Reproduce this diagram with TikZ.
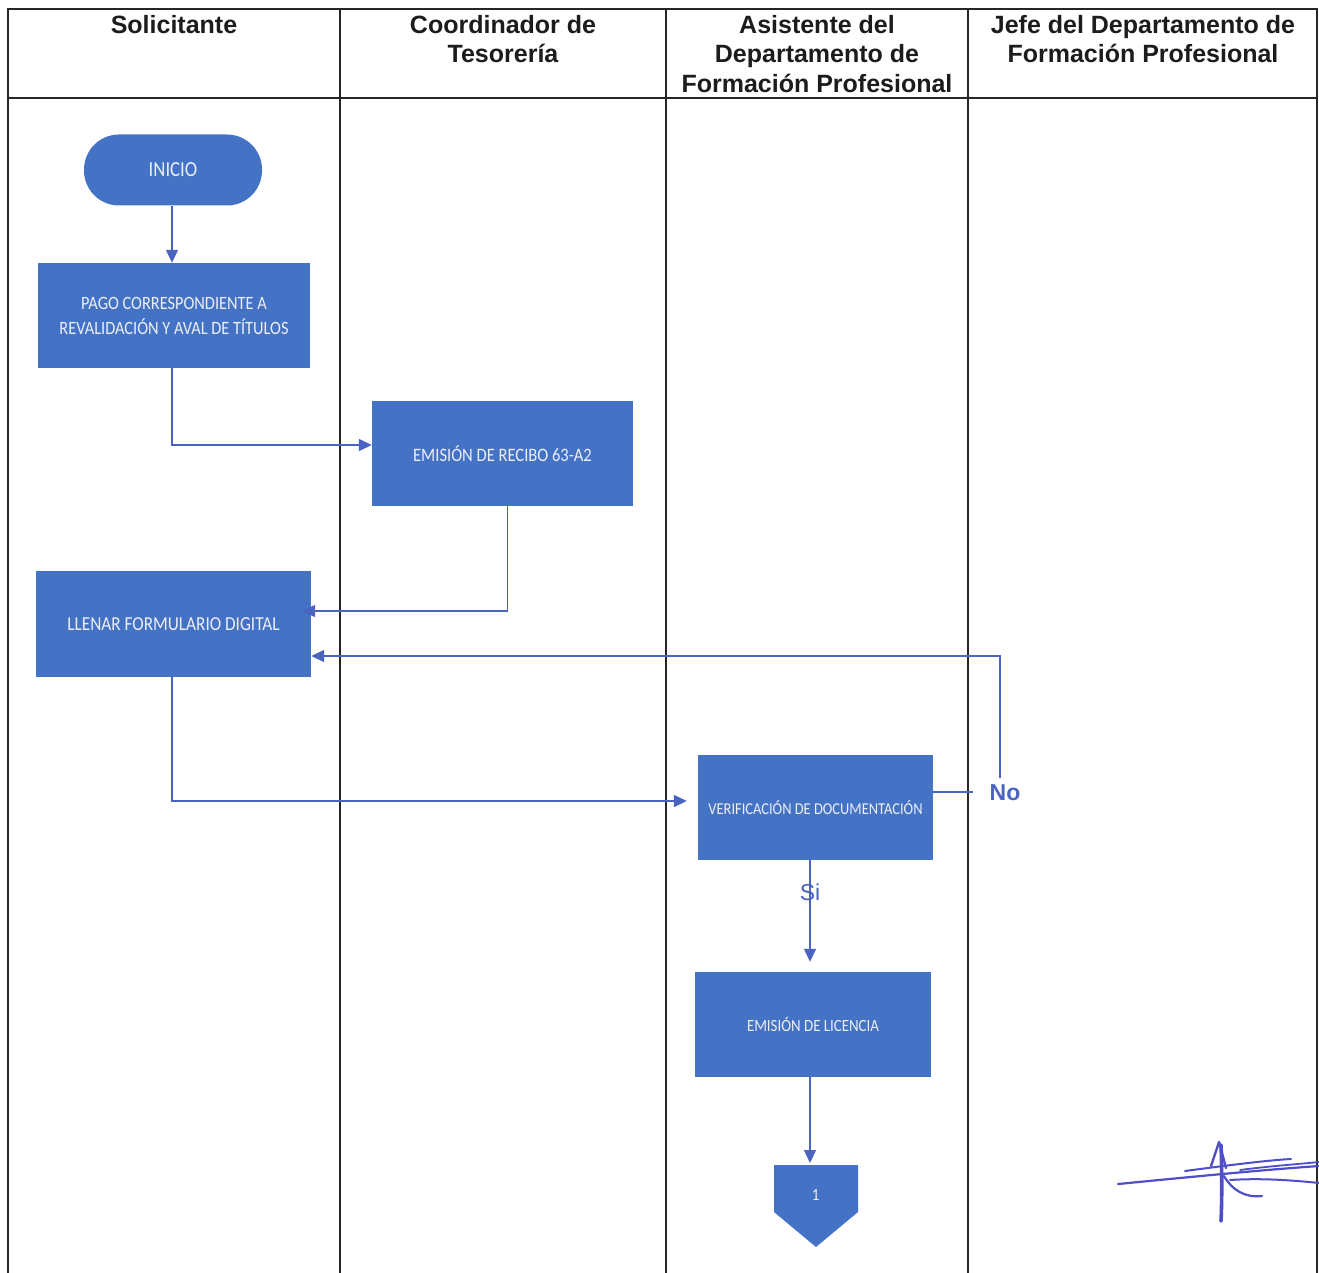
\documentclass[tikz,border=0pt]{standalone}
\usepackage{fontspec}
\setmainfont{Liberation Sans}
\newfontfamily\boxfont[FakeStretch=0.87]{Carlito}
\usetikzlibrary{arrows.meta}
\definecolor{boxblue}{RGB}{68,114,196}
\definecolor{linkblue}{RGB}{74,100,192}
\definecolor{boxtext}{RGB}{236,239,247}
\definecolor{headtext}{RGB}{28,28,28}
\definecolor{inkblue}{RGB}{78,78,200}
\begin{document}
\begin{tikzpicture}[x=1pt,y=-1pt,
  lane/.style={draw=black!85,line width=1.4pt},
  head/.style={font=\bfseries\fontsize{25}{29.5}\selectfont,text=headtext,align=center,inner sep=0pt,anchor=north},
  proc/.style={fill=boxblue,draw=none,text=boxtext,inner sep=0pt,align=center},
  link/.style={draw=linkblue,line width=1.4pt},
  arr/.style={link,-{Triangle[length=13pt,width=12pt]}},
  lbl/.style={text=linkblue,font=\fontsize{23}{26}\selectfont,inner sep=0pt},
  ink/.style={draw=inkblue,line cap=round,line join=round}]
\useasboundingbox (0,0) rectangle (1319,1273);
\fill[white] (0,0) rectangle (1319,1273);

% lanes
\draw[lane] (8,1273) -- (8,9) -- (1317,9) -- (1317,1273);
\draw[lane] (8,98) -- (1317,98);
\draw[lane] (340,9) -- (340,1273);
\draw[lane] (666,9) -- (666,1273);
\draw[lane] (968,9) -- (968,1273);

% headers
\node[head] (h1) at (174,15) {Solicitante};
\node[head] (h2) at (503,15) {Coordinador de\\Tesorería};
\node[head] (h3) at (817,15) {Asistente del\\Departamento de\\Formación Profesional};
\node[head] (h4) at (1143,15) {Jefe del Departamento de\\Formación Profesional};

% nodes
\node[proc,rounded corners=35pt,minimum width=178pt,minimum height=71pt,
  font=\boxfont\fontsize{21.5}{24}\selectfont] (inicio) at (173,170) {INICIO};
\node[proc,minimum width=272pt,minimum height=105pt,
  font=\boxfont\fontsize{18.8}{25}\selectfont] (pago) at (174,315.5) {PAGO CORRESPONDIENTE A\\REVALIDACIÓN Y AVAL DE TÍTULOS};
\node[proc,minimum width=261pt,minimum height=105pt,
  font=\boxfont\fontsize{19}{22}\selectfont] (recibo) at (502.5,453.5) {EMISIÓN DE RECIBO 63-A2};
\node[proc,minimum width=275pt,minimum height=106pt,
  font=\boxfont\fontsize{19.8}{22}\selectfont] (llenar) at (173.5,624) {LLENAR FORMULARIO DIGITAL};
\node[proc,minimum width=235pt,minimum height=105pt,
  font=\boxfont\fontsize{16.6}{20}\selectfont] (verif) at (815.5,807.5) {VERIFICACIÓN DE DOCUMENTACIÓN};
\node[proc,minimum width=236pt,minimum height=105pt,
  font=\boxfont\fontsize{17.1}{20}\selectfont] (lic) at (813,1024.5) {EMISIÓN DE LICENCIA};

% off-page connector
\fill[boxblue] (774,1165) -- (858,1165) -- (858,1212) -- (816,1247) -- (774,1212) -- cycle;
\node[text=boxtext,font=\boxfont\fontsize{17}{18}\selectfont,inner sep=0pt] (op) at (815.5,1195) {1};
\coordinate (optop) at (810,1165);

% labels
\node[lbl,font=\bfseries\fontsize{23}{26}\selectfont,inner xsep=16pt,inner ysep=7pt] (no) at (1005,793) {No};

% connectors
\draw[arr] ([xshift=-1pt]inicio.south) -- ([xshift=-2pt]pago.north);
\draw[arr] ([xshift=-2pt]pago.south) |- ([yshift=8.5pt]recibo.west);
\draw[arr,shorten >=-9pt] ([xshift=5pt]recibo.south) |- ([yshift=13pt]llenar.east);
\draw[link] ([yshift=15.5pt]verif.east) -- ([yshift=15.5pt]verif.east -| no.west);
\draw[arr] ([xshift=-5pt]no.north) |- ([yshift=-32pt]llenar.east);
\draw[arr,shorten >=11pt] ([xshift=-1.5pt]llenar.south) |- ([yshift=6.5pt]verif.west);
\draw[arr,shorten >=10pt] ([xshift=-5.5pt]verif.south) -- ([xshift=-5.5pt]verif.south |- lic.north);
\node[lbl] (si) at (810,892) {Si};
\draw[arr,shorten >=2pt] (lic.south -| optop) -- (optop);

% signature
\draw[ink,line width=2.2pt] (1118,1184) .. controls (1180,1178) and (1260,1170) .. (1319,1166);
\draw[ink,line width=2pt] (1185,1171) .. controls (1230,1165) and (1270,1160) .. (1291,1159);
\draw[ink,line width=1.8pt] (1240,1170) .. controls (1270,1166) and (1300,1164) .. (1319,1162);
\draw[ink,line width=2pt] (1230,1180) .. controls (1260,1178) and (1290,1180) .. (1319,1183);
\draw[ink,line width=3.6pt] (1221,1145) .. controls (1222,1170) and (1222,1200) .. (1221,1221);
\draw[ink,line width=2.4pt] (1211,1166) -- (1219,1142) -- (1226,1168);
\draw[ink,line width=2.2pt] (1224,1176) .. controls (1232,1190) and (1245,1198) .. (1262,1196);
\end{tikzpicture}
\end{document}
